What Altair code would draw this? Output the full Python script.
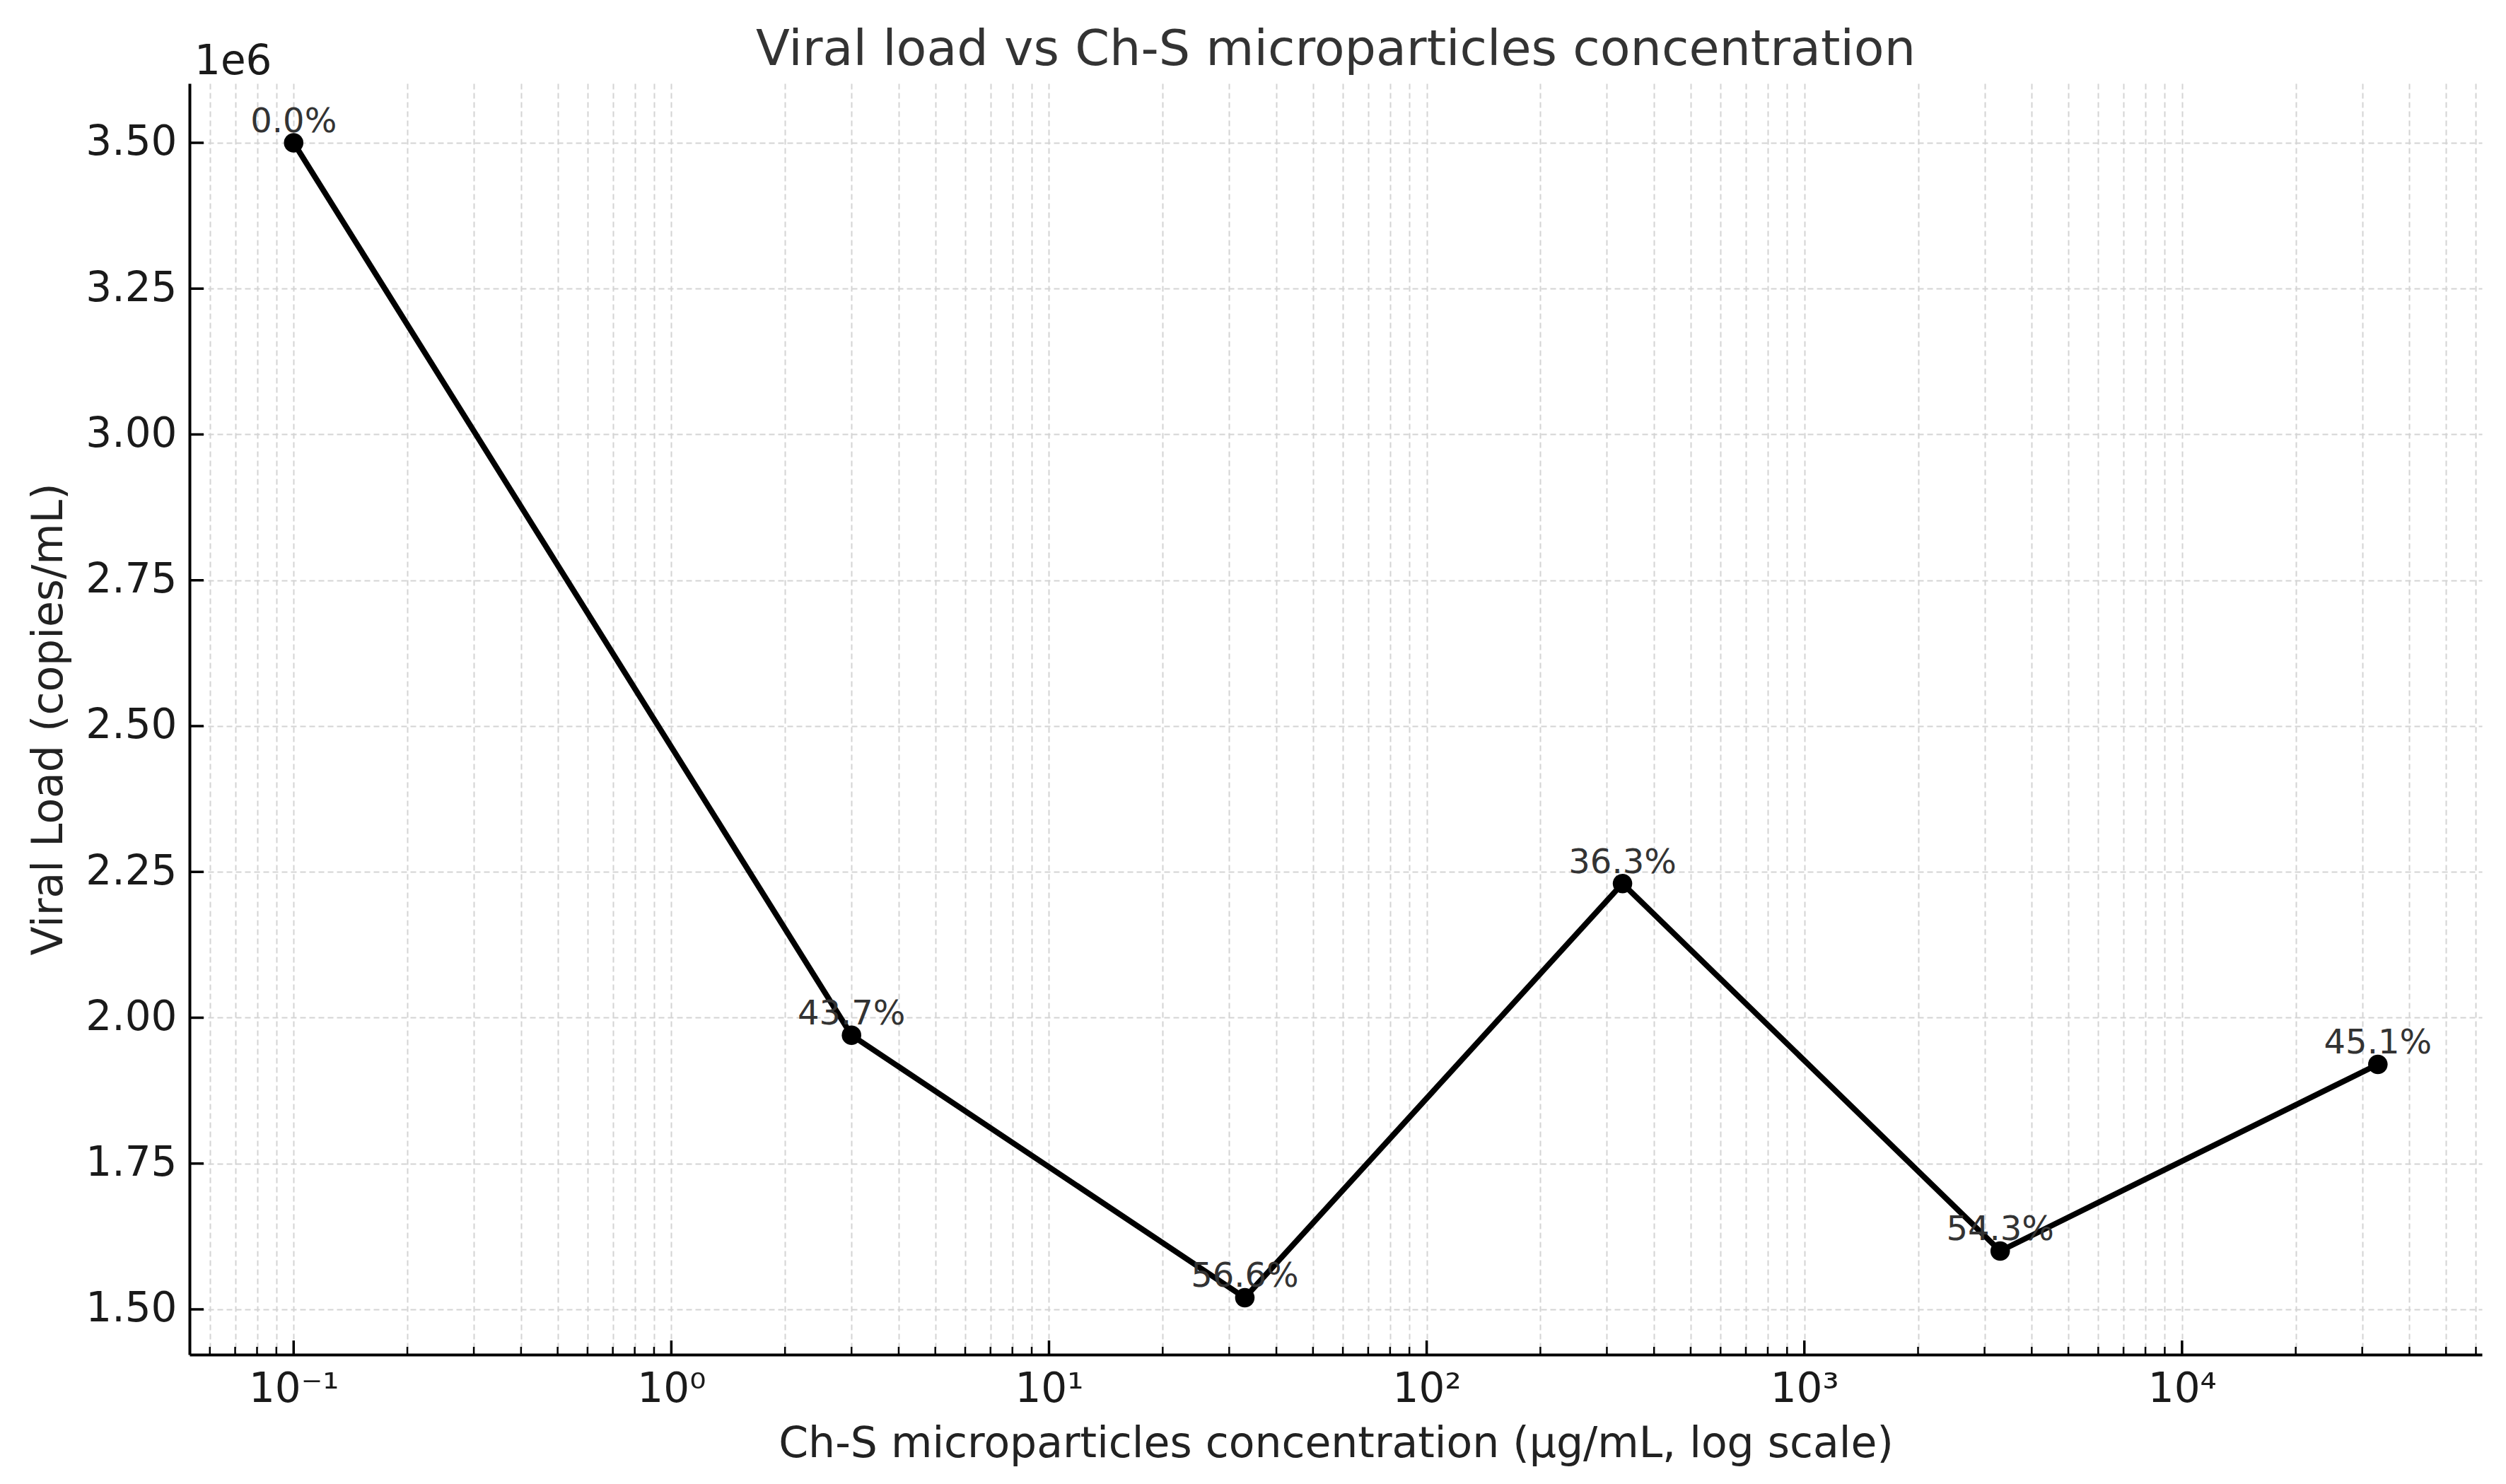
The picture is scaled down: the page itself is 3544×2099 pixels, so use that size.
import json
import altair as alt
import pandas as pd

# ---- data ----
concentration = [0.1, 3, 33, 330, 3300, 33000]
viral_load = [3.50e6, 1.97e6, 1.52e6, 2.23e6, 1.60e6, 1.92e6]
reduction_labels = ["0.0%", "43.7%", "56.6%", "36.3%", "54.3%", "45.1%"]

x_major_ticks = [0.1, 1, 10, 100, 1000, 10000]
x_major_labels = ["10\u207b\u00b9", "10\u2070", "10\u00b9", "10\u00b2", "10\u00b3", "10\u2074"]
x_minor_ticks = [
    0.06, 0.07, 0.08, 0.09,
    0.2, 0.3, 0.4, 0.5, 0.6, 0.7, 0.8, 0.9,
    2, 3, 4, 5, 6, 7, 8, 9,
    20, 30, 40, 50, 60, 70, 80, 90,
    200, 300, 400, 500, 600, 700, 800, 900,
    2000, 3000, 4000, 5000, 6000, 7000, 8000, 9000,
    20000, 30000, 40000, 50000, 60000,
]
y_ticks = [1.50e6, 1.75e6, 2.00e6, 2.25e6, 2.50e6, 2.75e6, 3.00e6, 3.25e6, 3.50e6]
offset_label = ["1e6"]

TITLE = "Viral load vs Ch-S microparticles concentration"
X_TITLE = "Ch-S microparticles concentration (\u00b5g/mL, log scale)"
Y_TITLE = "Viral Load (copies/mL)"

FONT = "DejaVu Sans"
W, H = 3242, 1798

df = pd.DataFrame({"conc": concentration, "vl": viral_load, "label": reduction_labels})

xscale = alt.Scale(type="log", domain=[0.053, 62250], nice=False)
yscale = alt.Scale(domain=[1.4224e6, 3.6018e6], nice=False, zero=False)

is_decade = "abs(log(datum.value)/LN10 - round(log(datum.value)/LN10)) < 0.001"
x_label_expr = (
    f"{is_decade} ? {json.dumps(x_major_labels, ensure_ascii=False)}"
    f"[round(log(datum.value)/LN10)+1] : ''"
)

grid_style = dict(grid=True, gridColor="#d4d4d4", gridDash=[8, 5], gridWidth=2)

xaxis = alt.Axis(
    values=x_major_ticks + x_minor_ticks,
    ticks=False,
    domainColor="black",
    domainWidth=4,
    labelExpr=x_label_expr,
    labelFont=FONT,
    labelFontSize=58,
    labelColor="#1a1a1a",
    labelPadding=66,
    labelBaseline="alphabetic",
    labelOverlap=False,
    labelFlush=False,
    title=X_TITLE,
    titleFont=FONT,
    titleFontSize=60,
    titleFontWeight="normal",
    titleColor="#222222",
    titleBaseline="alphabetic",
    titleY=144,
    **grid_style,
)

yaxis = alt.Axis(
    values=y_ticks,
    ticks=False,
    domainColor="black",
    domainWidth=4,
    labelExpr="format(datum.value/1000000, '.2f')",
    labelFont=FONT,
    labelFontSize=58,
    labelColor="#1a1a1a",
    labelPadding=18,
    labelBaseline="middle",
    labelOverlap=False,
    labelFlush=False,
    title=Y_TITLE,
    titleFont=FONT,
    titleFontSize=60,
    titleFontWeight="normal",
    titleColor="#222222",
    titleBaseline="alphabetic",
    titleAngle=270,
    titleX=-181,
    **grid_style,
)

X = alt.X("conc:Q", scale=xscale, axis=xaxis)
Y = alt.Y("vl:Q", scale=yscale, axis=yaxis)

base = alt.Chart(df).encode(x=X, y=Y)

line = base.mark_line(color="black", strokeWidth=8)
points = base.mark_point(filled=True, color="black", opacity=1, size=760, shape="circle")
labels = base.mark_text(
    font=FONT, fontSize=48, color="#333333", align="center", baseline="alphabetic", dy=-15
).encode(text="label:N")

# inward tick marks (matplotlib style)
xt_major = alt.Chart(pd.DataFrame({"conc": x_major_ticks})).mark_rule(
    color="black", strokeWidth=3.5
).encode(x=X, y=alt.value(H), y2=alt.value(H - 20))
xt_minor = alt.Chart(pd.DataFrame({"conc": x_minor_ticks})).mark_rule(
    color="black", strokeWidth=2.5
).encode(x=X, y=alt.value(H), y2=alt.value(H - 11))
yt = alt.Chart(pd.DataFrame({"vl": y_ticks})).mark_rule(
    color="black", strokeWidth=3.5
).encode(y=Y, x=alt.value(0), x2=alt.value(20))

offset_text = alt.Chart(pd.DataFrame({"t": offset_label})).mark_text(
    font=FONT, fontSize=58, color="#1a1a1a", align="left", baseline="alphabetic"
).encode(x=alt.value(7), y=alt.value(-13), text="t:N")

chart = (
    alt.layer(line, points, labels, xt_major, xt_minor, yt, offset_text)
    .properties(
        width=W,
        height=H,
        title=alt.TitleParams(
            text=TITLE,
            font=FONT,
            fontSize=70,
            fontWeight="normal",
            color="#333333",
            anchor="middle",
            frame="group",
            baseline="alphabetic",
            offset=0,
            dy=103,
        ),
        autosize=alt.AutoSizeParams(type="none"),
        padding={"left": 260, "top": 110, "right": 26, "bottom": 175},
        background="white",
    )
    .configure_view(stroke=None)
)

chart.save("out.html", embed_options={"renderer": "svg", "actions": False})
